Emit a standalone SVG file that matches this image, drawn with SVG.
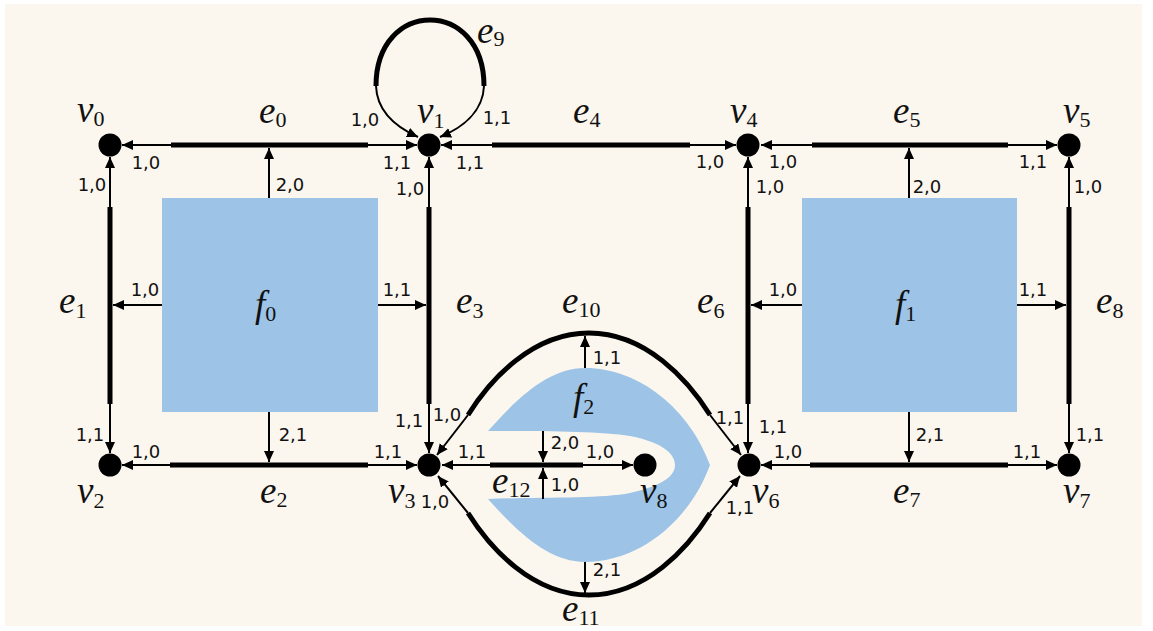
<svg xmlns="http://www.w3.org/2000/svg" width="1153" height="631" viewBox="0 0 1153 631">
<style>
.bg{fill:#FBF6EE}
.face{fill:#9DC3E6}
.node{fill:#000}
.thick{fill:none;stroke:#000;stroke-width:5}
.thin{fill:none;stroke:#000;stroke-width:2;marker-end:url(#ah)}
.n{font-family:"DejaVu Sans","Liberation Sans",sans-serif;font-size:18px;fill:#111;text-anchor:middle}
.m{font-family:"Liberation Serif",serif;font-style:italic;font-size:37px;fill:#111}
.s{font-style:normal;font-size:22px}
</style>
<defs>
<marker id="ah" markerUnits="userSpaceOnUse" markerWidth="12" markerHeight="11" refX="11" refY="5" orient="auto">
<path d="M0,0 L11,5 L0,10 z" fill="#000"/>
</marker>
</defs>
<rect class="bg" x="5" y="4" width="1137" height="622"/>

<g id="f0"><rect class="face" x="162" y="198" width="216" height="214"/>
<text class="m" x="255" y="317">f<tspan class="s" dy="4">0</tspan></text></g>
<g id="f1"><rect class="face" x="802" y="198" width="215" height="214"/>
<text class="m" x="895" y="317">f<tspan class="s" dy="4">1</tspan></text></g>
<g id="f2"><path class="face" d="M488,431 C520,395 550,368 585,368 C640,368 690,410 710,465 C690,520 640,562 585,562 C550,562 520,535 488,499 C540,497 600,499 630,493 C665,485 675,475 675,465 C675,455 665,443 630,436 C600,431 540,431 488,431 Z"/>
<text class="m" x="573" y="410">f<tspan class="s" dy="4">2</tspan></text></g>

<g id="connectors">
<g id="e0"><path class="thick" d="M171,145 H368"/><path class="thin" d="M171,145 H122"/><path class="thin" d="M368,145 H417"/>
<text class="m" x="259" y="123">e<tspan class="s" dy="4">0</tspan></text>
<text class="n" x="146" y="169">1,0</text><text class="n" x="397" y="169">1,1</text></g>
<g id="e4"><path class="thick" d="M492,145 H690"/><path class="thin" d="M492,145 H441"/><path class="thin" d="M690,145 H736"/>
<text class="m" x="573" y="123">e<tspan class="s" dy="4">4</tspan></text>
<text class="n" x="470" y="169">1,1</text><text class="n" x="710" y="168">1,0</text></g>
<g id="e5"><path class="thick" d="M812,145 H1008"/><path class="thin" d="M812,145 H761"/><path class="thin" d="M1008,145 H1057"/>
<text class="m" x="893" y="123">e<tspan class="s" dy="4">5</tspan></text>
<text class="n" x="783" y="168">1,0</text><text class="n" x="1033" y="168">1,1</text></g>
<g id="e2"><path class="thick" d="M170,465 H368"/><path class="thin" d="M170,465 H122"/><path class="thin" d="M368,465 H417"/>
<text class="m" x="260" y="503">e<tspan class="s" dy="4">2</tspan></text>
<text class="n" x="146" y="458">1,0</text><text class="n" x="388" y="458">1,1</text></g>
<g id="e12"><path class="thick" d="M490,465 H583"/><path class="thin" d="M490,465 H442"/><path class="thin" d="M583,465 H633"/>
<text class="m" x="492" y="493">e<tspan class="s" dy="4">12</tspan></text>
<text class="n" x="472" y="458">1,1</text><text class="n" x="600" y="458">1,0</text></g>
<g id="e7"><path class="thick" d="M810,465 H1008"/><path class="thin" d="M810,465 H761"/><path class="thin" d="M1008,465 H1057"/>
<text class="m" x="893" y="503">e<tspan class="s" dy="4">7</tspan></text>
<text class="n" x="788" y="458">1,0</text><text class="n" x="1027" y="458">1,1</text></g>
<g id="e1"><path class="thick" d="M110,207 V404"/><path class="thin" d="M110,207 V157"/><path class="thin" d="M110,404 V453"/>
<text class="m" x="59" y="313">e<tspan class="s" dy="5">1</tspan></text>
<text class="n" x="92" y="191">1,0</text><text class="n" x="90" y="441">1,1</text></g>
<g id="e3"><path class="thick" d="M429,207 V404"/><path class="thin" d="M429,207 V157"/><path class="thin" d="M429,404 V453"/>
<text class="m" x="456" y="313">e<tspan class="s" dy="5">3</tspan></text>
<text class="n" x="410" y="195">1,0</text><text class="n" x="409" y="427">1,1</text></g>
<g id="e6"><path class="thick" d="M748,207 V404"/><path class="thin" d="M748,207 V157"/><path class="thin" d="M748,404 V453"/>
<text class="m" x="697" y="313">e<tspan class="s" dy="5">6</tspan></text>
<text class="n" x="770" y="193">1,0</text><text class="n" x="773" y="433">1,1</text></g>
<g id="e8"><path class="thick" d="M1069,207 V404"/><path class="thin" d="M1069,207 V157"/><path class="thin" d="M1069,404 V453"/>
<text class="m" x="1096" y="313">e<tspan class="s" dy="5">8</tspan></text>
<text class="n" x="1088" y="193">1,0</text><text class="n" x="1090" y="441">1,1</text></g>
<g id="e9"><path class="thick" d="M376,86 C376,-2 484,-2 484,86"/>
<path class="thin" d="M376,86 C377,112 398,128 418,137"/><path class="thin" d="M484,86 C483,112 462,128 440,137"/>
<text class="m" x="477" y="43">e<tspan class="s" dy="3">9</tspan></text>
<text class="n" x="365" y="126">1,0</text><text class="n" x="497" y="124">1,1</text></g>
<g id="e10"><path class="thick" d="M468,415 C490,380 532,333 589,333 C646,333 688,380 710,415"/>
<path class="thin" d="M468,415 L437,455"/><path class="thin" d="M710,415 L741,455"/>
<text class="m" x="562" y="313">e<tspan class="s" dy="4">10</tspan></text>
<text class="n" x="447" y="421">1,0</text><text class="n" x="730" y="424">1,1</text></g>
<g id="e11"><path class="thick" d="M468,513 C490,548 532,595 589,595 C646,595 688,548 710,513"/>
<path class="thin" d="M468,513 L438,476"/><path class="thin" d="M710,513 L740,476"/>
<text class="m" x="562" y="621">e<tspan class="s" dy="4">11</tspan></text>
<text class="n" x="435" y="508">1,0</text><text class="n" x="740" y="514">1,1</text></g>
<g id="face-arrows">
<path class="thin" d="M269,198 V148"/><text class="n" x="290" y="191">2,0</text>
<path class="thin" d="M269,412 V462"/><text class="n" x="293" y="441">2,1</text>
<path class="thin" d="M162,305 H113"/><text class="n" x="145" y="296">1,0</text>
<path class="thin" d="M378,305 H426"/><text class="n" x="397" y="296">1,1</text>
<path class="thin" d="M909,198 V148"/><text class="n" x="927" y="193">2,0</text>
<path class="thin" d="M909,412 V462"/><text class="n" x="930" y="441">2,1</text>
<path class="thin" d="M802,305 H751"/><text class="n" x="783" y="296">1,0</text>
<path class="thin" d="M1017,305 H1066"/><text class="n" x="1033" y="296">1,1</text>
<path class="thin" d="M585,368 V336"/><text class="n" x="607" y="364">1,1</text>
<path class="thin" d="M585,562 V593"/><text class="n" x="607" y="576">2,1</text>
<path class="thin" d="M543,431 V462"/><text class="n" x="565" y="449">2,0</text>
<path class="thin" d="M543,499 V468"/><text class="n" x="565" y="491">1,0</text>
</g>
</g>

<g id="v0"><circle class="node" cx="110" cy="145" r="11.5"/><text class="m" x="77" y="122">v<tspan class="s" dy="4">0</tspan></text></g>
<g id="v1"><circle class="node" cx="429" cy="145" r="11.5"/><text class="m" x="417" y="123">v<tspan class="s" dy="5">1</tspan></text></g>
<g id="v4"><circle class="node" cx="748" cy="145" r="11.5"/><text class="m" x="730" y="123">v<tspan class="s" dy="4">4</tspan></text></g>
<g id="v5"><circle class="node" cx="1069" cy="145" r="11.5"/><text class="m" x="1063" y="123">v<tspan class="s" dy="4">5</tspan></text></g>
<g id="v2"><circle class="node" cx="110" cy="465" r="11.5"/><text class="m" x="77" y="503">v<tspan class="s" dy="5">2</tspan></text></g>
<g id="v3"><circle class="node" cx="429" cy="465" r="11.5"/><text class="m" x="388" y="503">v<tspan class="s" dy="5">3</tspan></text></g>
<g id="v8"><circle class="node" cx="645" cy="465" r="11.5"/><text class="m" x="640" y="503">v<tspan class="s" dy="5">8</tspan></text></g>
<g id="v6"><circle class="node" cx="749" cy="465" r="11.5"/><text class="m" x="752" y="503">v<tspan class="s" dy="5">6</tspan></text></g>
<g id="v7"><circle class="node" cx="1069" cy="465" r="11.5"/><text class="m" x="1063" y="503">v<tspan class="s" dy="5">7</tspan></text></g>
</svg>
